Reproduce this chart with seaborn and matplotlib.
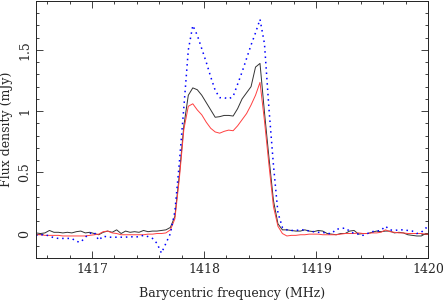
import numpy as np
import pandas as pd
import seaborn as sns
import matplotlib.pyplot as plt
from matplotlib.ticker import MultipleLocator, FormatStrFormatter

# channel grid (MHz), 0.04 MHz spacing
freq = np.round(1416.50 + 0.04 * np.arange(89), 2)

black = [0.005, 0.0, 0.005, 0.025, 0.01, 0.01, 0.005, 0.01, 0.005, 0.015,
         0.02, 0.005, 0.01, 0.0, -0.01, 0.01, 0.02, 0.01, 0.03, 0.0,
         0.02, 0.01, 0.015, 0.01, 0.025, 0.015, 0.02, 0.02, 0.025, 0.03,
         0.05, 0.14, 0.48, 0.88, 1.13, 1.19, 1.175, 1.13, 1.07, 1.01,
         0.95, 0.955, 0.965, 0.965, 0.96, 1.02, 1.10, 1.15, 1.20, 1.36,
         1.39, 0.99, 0.62, 0.27, 0.08, 0.03, 0.03, 0.025, 0.02, 0.02,
         0.03, 0.02, 0.015, 0.025, 0.02, 0.0, -0.005, -0.01, 0.0, 0.0,
         0.02, 0.025, -0.005, 0.0, 0.0, 0.01, 0.02, 0.015, 0.02, 0.02,
         0.005, 0.01, 0.005, -0.01, -0.015, -0.02, -0.02, 0.0, 0.0]

red = [-0.01, -0.01, -0.015, -0.015, -0.015, -0.015, -0.02, -0.02, -0.02, -0.02,
       -0.02, -0.02, -0.015, -0.01, -0.005, 0.015, 0.02, 0.005, 0.0, -0.01,
       -0.01, -0.01, -0.01, -0.01, -0.01, -0.005, -0.005, 0.0, 0.0, 0.005,
       0.03, 0.12, 0.45, 0.85, 1.04, 1.06, 1.01, 0.97, 0.91, 0.86,
       0.83, 0.82, 0.835, 0.845, 0.84, 0.88, 0.93, 0.98, 1.05, 1.13,
       1.235, 0.92, 0.56, 0.22, 0.06, 0.0, -0.02, -0.015, -0.015, -0.01,
       -0.01, -0.005, -0.005, -0.005, -0.01, -0.01, -0.01, -0.01, -0.005, 0.0,
       0.0, 0.0, 0.005, 0.0, 0.0, 0.005, 0.005, 0.01, 0.03, 0.015,
       0.01, 0.005, 0.005, 0.0, 0.0, 0.0, 0.0, -0.005, -0.005]

blue = [-0.015, -0.01, -0.01, -0.02, -0.035, -0.04, -0.04, -0.04, -0.04, -0.065,
        -0.07, -0.03, 0.0, 0.01, -0.055, -0.02, -0.03, -0.03, -0.03, -0.03,
        -0.03, -0.025, -0.03, -0.025, -0.015, -0.025, -0.04, -0.08, -0.16, -0.08,
        0.0, 0.18, 0.58, 1.03, 1.50, 1.70, 1.62, 1.51, 1.40, 1.28,
        1.17, 1.11, 1.11, 1.10, 1.12, 1.22, 1.32, 1.43, 1.54, 1.64,
        1.75, 1.55, 1.02, 0.56, 0.17, 0.05, 0.03, 0.025, 0.025, 0.03,
        0.03, 0.02, 0.015, 0.01, 0.01, 0.0, 0.0, 0.035, 0.04, 0.045,
        0.02, 0.0, -0.005, -0.015, 0.0, 0.015, 0.02, 0.025, 0.06, 0.03,
        0.025, 0.03, 0.03, 0.025, 0.02, 0.0, 0.01, 0.045, 0.05]

sns.set_style('ticks')
plt.rcParams['font.family'] = ['DejaVu Serif']
plt.rcParams['font.size'] = 9

fig = plt.figure(figsize=(4.43, 3.0), dpi=100)
ax = fig.add_axes([36 / 443, 42 / 300, 392 / 443, 257 / 300])

sns.lineplot(x=freq, y=black, ax=ax, color='#333333', linewidth=0.7)
sns.lineplot(x=freq, y=red, ax=ax, color='#ff4040', linewidth=0.7)
sns.lineplot(x=freq, y=blue, ax=ax, color='#0000ff', linewidth=1.1,
             linestyle=(0, (1, 2.5)))

ax.set_xlim(1416.5, 1420)
ax.set_ylim(-0.2, 1.9)
ax.xaxis.set_major_locator(MultipleLocator(1))
ax.xaxis.set_minor_locator(MultipleLocator(0.2))
ax.yaxis.set_major_locator(MultipleLocator(0.5))
ax.yaxis.set_minor_locator(MultipleLocator(0.1))
ax.xaxis.set_major_formatter(FormatStrFormatter('%g'))
ax.yaxis.set_major_formatter(FormatStrFormatter('%g'))

ax.tick_params(which='both', direction='in', top=True, right=True,
               width=0.6, color='#222222', labelsize=9)
ax.tick_params(which='major', length=5)
ax.tick_params(which='minor', length=2.5)
ax.tick_params(axis='y', labelrotation=90)
for lab in ax.get_yticklabels():
    lab.set_va('center')

for sp in ax.spines.values():
    sp.set_linewidth(0.7)
    sp.set_color('#222222')

ax.set_xlabel('Barycentric frequency (MHz)', labelpad=8)
ax.set_ylabel('Flux density (mJy)', labelpad=4)

fig.savefig('out.png', dpi=100)
